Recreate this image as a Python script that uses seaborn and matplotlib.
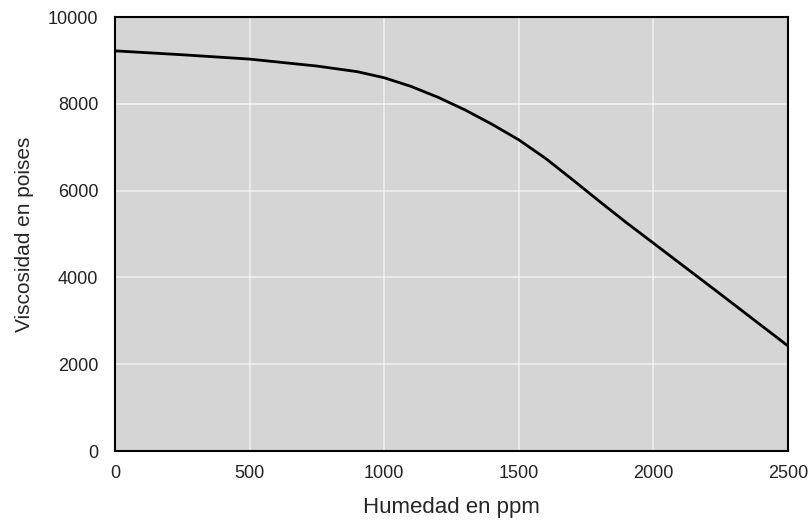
import seaborn as sns
import matplotlib.pyplot as plt
import pandas as pd

# humedad (ppm) vs viscosidad (poises)
humedad = [0, 250, 500, 750, 900, 1000, 1100, 1200, 1300, 1400,
           1500, 1600, 1700, 1800, 1900, 2000, 2250, 2500]
viscosidad = [9220, 9130, 9030, 8870, 8740, 8600, 8400, 8150, 7860, 7530,
              7170, 6740, 6250, 5750, 5260, 4790, 3610, 2420]

x_ticks = [0, 500, 1000, 1500, 2000, 2500]
y_ticks = [0, 2000, 4000, 6000, 8000, 10000]

df = pd.DataFrame({"humedad": humedad, "viscosidad": viscosidad})

sns.set_style("white")
plt.rcParams["font.family"] = ["Liberation Sans", "DejaVu Sans"]

fig = plt.figure(figsize=(8.12, 5.2), dpi=100)
ax = fig.add_axes([115 / 812, 1 - 451 / 520, 673 / 812, 434 / 520])
ax.set_facecolor("#d5d5d5")

sns.lineplot(data=df, x="humedad", y="viscosidad", color="black", lw=2, ax=ax)

ax.set_xlim(0, 2500)
ax.set_ylim(0, 10000)
ax.set_xticks(x_ticks)
ax.set_yticks(y_ticks)
ax.grid(True, color="white", lw=1.5, alpha=0.5)
ax.set_axisbelow(True)
ax.tick_params(length=0, labelsize=13, colors="#222222")
ax.tick_params(axis="y", pad=12)
ax.tick_params(axis="x", pad=10)
for s in ax.spines.values():
    s.set_color("black")
    s.set_linewidth(1.5)

ax.set_xlabel("Humedad en ppm", fontsize=16, labelpad=11)
ax.set_ylabel("Viscosidad en poises", fontsize=15, labelpad=10)

fig.savefig("out.png", dpi=100)
